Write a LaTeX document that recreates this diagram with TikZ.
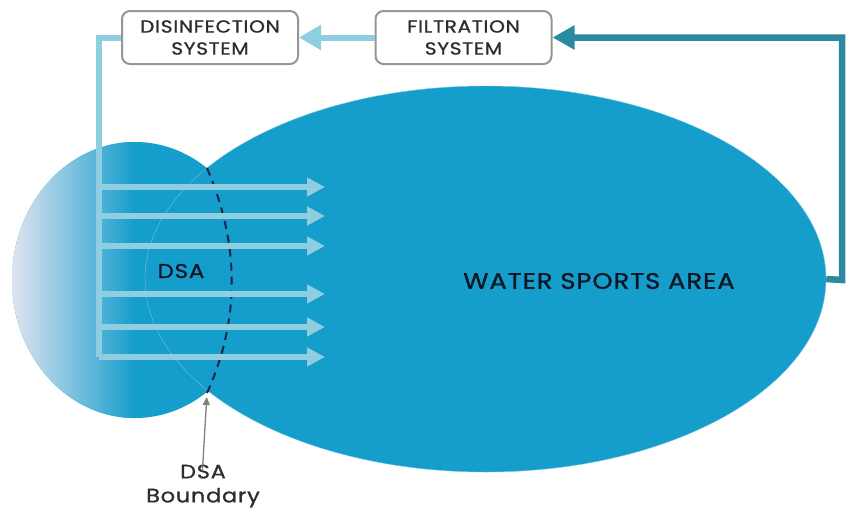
\documentclass[tikz,border=0pt]{standalone}
\usepackage{fontspec}
\setmainfont{Poppins}
\newfontfamily\labelfont[LetterSpace=4, FakeBold=1, FakeStretch=1.15]{Poppins}
\usetikzlibrary{arrows.meta,shapes.geometric}

\definecolor{wsablue}{RGB}{21,157,203}
\definecolor{wsaline}{RGB}{120,195,225}
\definecolor{paleblue}{RGB}{224,228,242}
\definecolor{pipelight}{RGB}{142,206,222}
\definecolor{pipedark}{RGB}{43,138,160}
\definecolor{boundnavy}{RGB}{24,40,70}
\definecolor{boxgray}{RGB}{150,150,150}
\definecolor{textdark}{RGB}{16,22,36}
\definecolor{labelgray}{RGB}{45,45,45}

\tikzset{
  sysbox/.style={draw=boxgray, line width=2pt, rounded corners=8pt, fill=white,
    minimum width=176pt, minimum height=53pt, align=center, text=labelgray,
    font=\labelfont\fontsize{17.5}{22}\selectfont},
  feedpipe/.style={draw=pipelight, line width=6pt},
  jetarrow/.style={feedpipe, -{Triangle[length=18pt,width=18pt]}},
  returnpipe/.style={draw=pipedark, line width=6.5pt, -{Triangle[length=22pt,width=23pt]}},
  boundline/.style={draw=boundnavy, line width=2pt, dash pattern=on 8pt off 6pt},
  pointer/.style={draw=gray, line width=1.3pt, -{Triangle[length=8pt,width=7pt]}},
  biglabel/.style={font=\labelfont\fontsize{22.5}{25}\selectfont}
}

\begin{document}
\begin{tikzpicture}[x=1pt,y=-1pt]
\useasboundingbox (0,0) rectangle (846,512);

% left lobe
\begin{scope}
\clip (135,280) ellipse [x radius=123, y radius=138];
\fill[wsablue] (0,130) rectangle (270,430);
\shade[left color=paleblue, right color=wsablue] (12,130) rectangle (135,430);
\end{scope}

\node[ellipse, fill=wsablue, draw=wsaline, line width=0.4pt, inner sep=0pt,
  minimum width=681pt, minimum height=386pt] (wsa) at (485.5,279) {};

\node[biglabel, text=textdark] (wsalabel) at (599,281) {WATER SPORTS AREA};
\node[text=textdark, font=\labelfont\fontsize{20}{24}\selectfont] (dsalabel) at (181,271) {DSA};

% DSA boundary
\coordinate (bdtop) at (207,168);
\coordinate (bdbot) at (207,393);
\draw[boundline] (bdtop) .. controls (240,245) and (240,320) .. (bdbot);

\node[sysbox] (disinf) at (210,37.5) {DISINFECTION\\SYSTEM};
\node[sysbox] (filtr) at (463.5,37.5) {FILTRATION\\SYSTEM};

\coordinate (turn) at (842,280);
\draw[returnpipe] (wsa.east) -- (turn) |- (filtr.east);
\draw[feedpipe, -{Triangle[length=22pt,width=24pt]}] (filtr.west) -- (disinf.east);

\coordinate (drop) at (99,357);
\draw[feedpipe] (disinf.west) -| (drop);
\foreach \y [count=\i] in {187,216,246,294,327,357}{
  \coordinate (jet\i) at (99,\y);
  \coordinate (tip\i) at (325,\y);
  \draw[jetarrow] (jet\i) -- (tip\i);
}

\node[text=labelgray, align=center, font=\labelfont\fontsize{19.5}{24}\selectfont] (bndlabel) at (203,486) {DSA\\Boundary};
\draw[pointer, shorten <=-10pt, shorten >=4pt] (bndlabel.north) -- (bdbot);
\end{tikzpicture}
\end{document}
